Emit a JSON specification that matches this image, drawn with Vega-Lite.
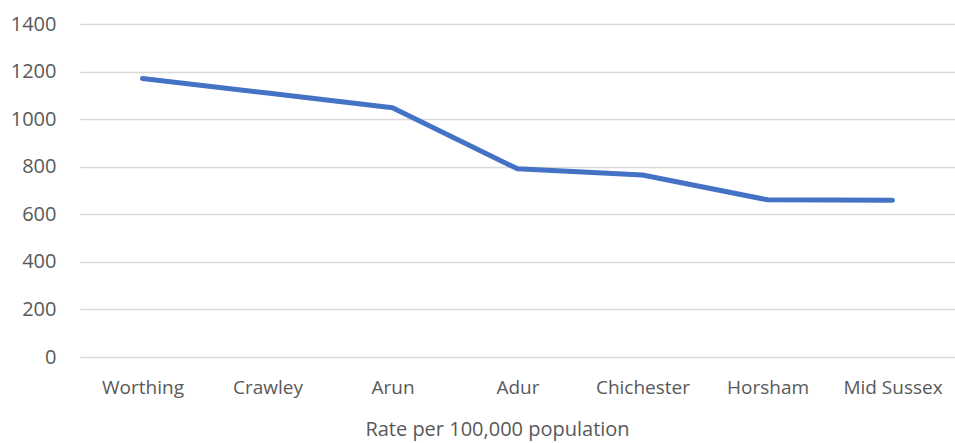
{
  "$schema": "https://vega.github.io/schema/vega-lite/v6.json",
  "autosize": "none",
  "width": 875,
  "height": 333,
  "padding": {"left": 80, "top": 24, "right": 0, "bottom": 86},
  "background": "white",
  "config": {"view": {"stroke": null}, "font": "Open Sans"},
  "data": {"values": [
    {"district": "Worthing", "rate": 1171},
    {"district": "Crawley", "rate": 1110},
    {"district": "Arun", "rate": 1048},
    {"district": "Adur", "rate": 791},
    {"district": "Chichester", "rate": 765},
    {"district": "Horsham", "rate": 661},
    {"district": "Mid Sussex", "rate": 659}
  ]},
  "mark": {"type": "line", "color": "#4472C4", "strokeWidth": 5, "strokeCap": "round", "strokeJoin": "round"},
  "encoding": {
    "x": {"field": "district", "type": "nominal", "sort": null,
      "scale": {"paddingInner": 0, "paddingOuter": 0.5},
      "axis": {"title": "Rate per 100,000 population", "labelAngle": 0, "domain": false, "ticks": false, "grid": false,
        "labelFontSize": 19, "labelColor": "#595959", "labelPadding": 21, "labelFont": "Open Sans",
        "titleFontSize": 20, "titleColor": "#595959", "titleFontWeight": "normal", "titlePadding": 22, "titleFont": "Open Sans",
        "titleX": 417, "titleAnchor": "middle"}},
    "y": {"field": "rate", "type": "quantitative",
      "scale": {"domain": [0, 1400], "nice": false},
      "axis": {"title": null, "values": [0,200,400,600,800,1000,1200,1400], "format": "d", "domain": false, "ticks": false,
        "grid": true, "gridColor": "#d9d9d9", "gridWidth": 1.5,
        "labelFontSize": 20, "labelColor": "#595959", "labelPadding": 24, "labelFont": "Open Sans"}}
  }
}
